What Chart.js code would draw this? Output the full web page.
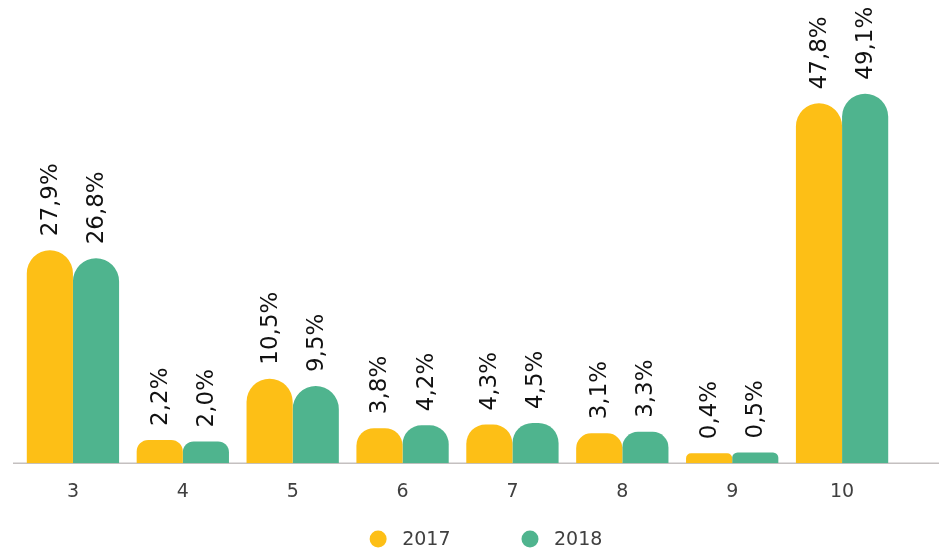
<!DOCTYPE html>
<html>
<head>
<meta charset="utf-8">
<script src="https://cdn.jsdelivr.net/npm/chart.js@4/dist/chart.umd.min.js"></script>
<style>
  html, body { margin: 0; padding: 0; background: #ffffff; }
  #wrap { width: 939px; height: 549px; }
</style>
</head>
<body>
<div id="wrap"><canvas id="c"></canvas></div>
<script>
const categories = ['3', '4', '5', '6', '7', '8', '9', '10'];
const values2017 = [27.9, 2.2, 10.5, 3.8, 4.3, 3.1, 0.4, 47.8];
const values2018 = [26.8, 2.0, 9.5, 4.2, 4.5, 3.3, 0.5, 49.1];
const seriesNames = ['2017', '2018'];

const YELLOW = '#FDBF16';
const GREEN = '#4FB48E';
const FONT = '"DejaVu Sans", sans-serif';

// Bars stand on a short plinth below the zero line
const FLOOR = -0.95;

// Percent with a decimal comma
const fmt = v => v.toFixed(1).replace('.', ',') + '%';

// Vertical value labels above each bar
const valueLabels = {
  id: 'valueLabels',
  afterDatasetsDraw(chart) {
    const ctx = chart.ctx;
    ctx.save();
    ctx.fillStyle = '#111111';
    ctx.font = '23px ' + FONT;
    ctx.textAlign = 'left';
    ctx.textBaseline = 'middle';
    chart.data.datasets.forEach((ds, di) => {
      const meta = chart.getDatasetMeta(di);
      meta.data.forEach((bar, i) => {
        ctx.save();
        ctx.translate(bar.x + 1, bar.y - 14);
        ctx.rotate(-Math.PI / 2);
        ctx.fillText(fmt(ds.data[i]), 0, 0);
        ctx.restore();
      });
    });
    ctx.restore();
  }
};

// Thin grey baseline under the bars
const baseline = {
  id: 'baseline',
  beforeDatasetsDraw(chart) {
    const ctx = chart.ctx;
    const y = chart.chartArea.bottom;
    ctx.save();
    ctx.strokeStyle = '#C4C0C0';
    ctx.lineWidth = 1.5;
    ctx.beginPath();
    ctx.moveTo(13, y);
    ctx.lineTo(chart.width, y);
    ctx.stroke();
    ctx.restore();
  }
};

// Legend row with round markers, drawn in the bottom padding
const dotLegend = {
  id: 'dotLegend',
  afterDraw(chart) {
    const ctx = chart.ctx;
    const items = chart.data.datasets.map(ds => ({ text: ds.label, color: ds.backgroundColor }));
    const r = 8.5, gapText = 15.5, gapItem = 71, cy = 539, cx = 486;
    ctx.save();
    ctx.font = '19px ' + FONT;
    ctx.textBaseline = 'middle';
    ctx.textAlign = 'left';
    const widths = items.map(it => ctx.measureText(it.text).width);
    let total = 0;
    items.forEach((it, i) => { total += 2 * r + gapText + widths[i]; });
    total += gapItem * (items.length - 1);
    let x = cx - total / 2;
    items.forEach((it, i) => {
      ctx.fillStyle = it.color;
      ctx.beginPath();
      ctx.arc(x + r, cy, r, 0, Math.PI * 2);
      ctx.fill();
      ctx.fillStyle = '#404040';
      ctx.fillText(it.text, x + 2 * r + gapText, cy + 1);
      x += 2 * r + gapText + widths[i] + gapItem;
    });
    ctx.restore();
  }
};

new Chart(document.getElementById('c'), {
  type: 'bar',
  data: {
    labels: categories,
    datasets: [
      { label: seriesNames[0], data: values2017, backgroundColor: YELLOW },
      { label: seriesNames[1], data: values2018, backgroundColor: GREEN }
    ]
  },
  options: {
    responsive: true,
    maintainAspectRatio: false,
    animation: false,
    layout: { padding: { left: 18, right: 42, top: 0, bottom: 29 } },
    datasets: {
      bar: {
        base: FLOOR,
        categoryPercentage: 0.84,
        barPercentage: 1.0,
        borderRadius: { topLeft: 24, topRight: 24, bottomLeft: 0, bottomRight: 0 },
        borderSkipped: 'bottom'
      }
    },
    scales: {
      x: {
        grid: { display: false, drawTicks: false },
        border: { display: false },
        ticks: { color: '#404040', font: { family: FONT, size: 19 }, padding: 17 }
      },
      y: {
        display: false,
        min: FLOOR,
        max: 61.8
      }
    },
    plugins: {
      legend: { display: false },
      tooltip: { enabled: false }
    }
  },
  plugins: [baseline, valueLabels, dotLegend]
});
</script>
</body>
</html>
